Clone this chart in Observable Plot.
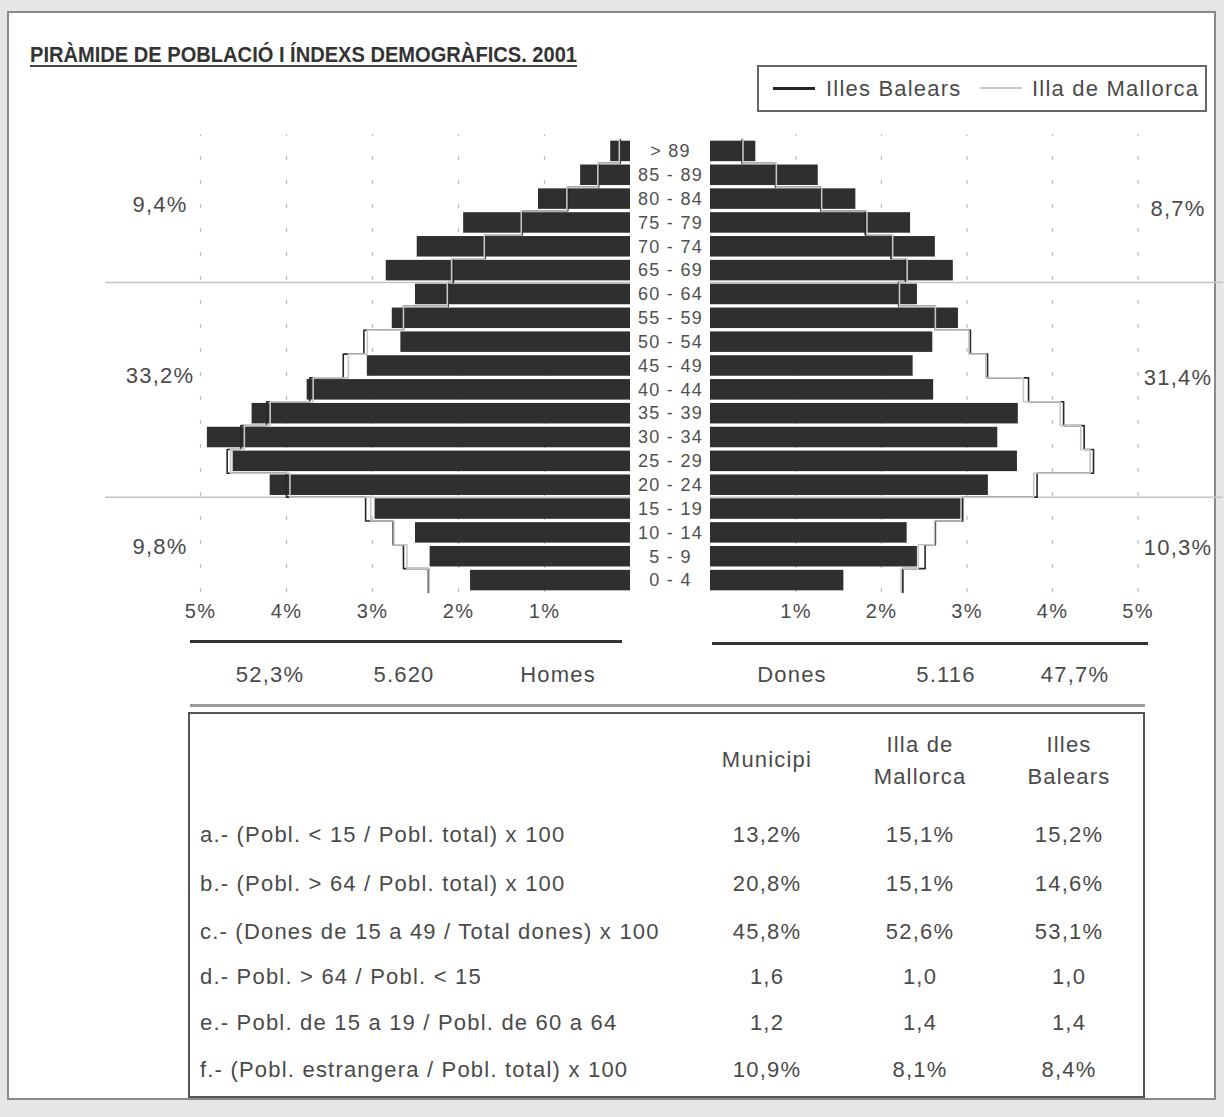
<!DOCTYPE html>
<html><head><meta charset="utf-8">
<script src="https://cdn.jsdelivr.net/npm/d3@7"></script>
<script src="https://cdn.jsdelivr.net/npm/@observablehq/plot@0.6"></script>
<style>
body{margin:0;background:#e6e6e6;font-family:"Liberation Sans",Arial,sans-serif;}
#page{position:relative;width:1224px;height:1117px;overflow:hidden;}
#panel{position:absolute;left:7px;top:11px;width:1209px;height:1089px;background:#fff;border:2px solid #8a8a8a;box-sizing:border-box;}
.t{position:absolute;transform:translate(-50%,-50%);white-space:nowrap;color:#4a4a4a;font-size:22px;letter-spacing:1.2px;}
.l{position:absolute;transform:translate(0,-50%);white-space:nowrap;color:#4a4a4a;font-size:22px;letter-spacing:1.2px;}
.abs{position:absolute;}
</style></head><body><div id="page"><div id="panel"></div></div>
<script>
// ---- data ----
const ages = ["> 89","85 - 89","80 - 84","75 - 79","70 - 74","65 - 69","60 - 64","55 - 59","50 - 54","45 - 49","40 - 44","35 - 39","30 - 34","25 - 29","20 - 24","15 - 19","10 - 14","5 - 9","0 - 4"];
const homesMunicipi = [0.23,0.58,1.07,1.94,2.48,2.84,2.50,2.77,2.67,3.06,3.76,4.40,4.92,4.62,4.19,2.97,2.50,2.33,1.86];
const homesBalears  = [0.12,0.37,0.73,1.26,1.69,2.06,2.12,2.64,3.10,3.34,3.73,4.23,4.53,4.69,4.00,3.08,2.76,2.64,2.35];
const homesMallorca = [0.13,0.38,0.74,1.27,1.70,2.08,2.13,2.64,3.06,3.28,3.69,4.19,4.49,4.65,3.96,3.02,2.75,2.60,2.34];
const donesMunicipi = [0.53,1.26,1.70,2.34,2.63,2.84,2.42,2.90,2.60,2.37,2.61,3.60,3.36,3.59,3.25,2.95,2.30,2.42,1.56];
const donesBalears  = [0.37,0.76,1.29,1.81,2.11,2.28,2.20,2.63,3.04,3.24,3.72,4.13,4.37,4.48,3.82,2.95,2.63,2.51,2.25];
const donesMallorca = [0.38,0.77,1.30,1.83,2.13,2.30,2.21,2.63,3.02,3.22,3.66,4.09,4.33,4.44,3.78,2.93,2.62,2.43,2.23];
const xTicks = [1,2,3,4,5];
const bandBreaks = [5.5, 14.5]; // between 65-69 / 60-64 and 20-24 / 15-19
const homesBandLabels = ["9,4%","33,2%","9,8%"];
const donesBandLabels = ["8,7%","31,4%","10,3%"];
const totals = {homesPct:"52,3%", homesN:"5.620", homes:"Homes", dones:"Dones", donesN:"5.116", donesPct:"47,7%"};
const legendItems = ["Illes Balears","Illa de Mallorca"];
const title = "PIRÀMIDE DE POBLACIÓ I ÍNDEXS DEMOGRÀFICS. 2001";
const tableHead = [["Municipi"],["Illa de","Mallorca"],["Illes","Balears"]];
const indexLabels = ["a.- (Pobl. < 15 / Pobl. total) x 100","b.- (Pobl. > 64 / Pobl. total) x 100","c.- (Dones de 15 a 49 / Total dones) x 100","d.- Pobl. > 64 / Pobl. < 15","e.- Pobl. de 15 a 19 / Pobl. de 60 a 64","f.- (Pobl. estrangera / Pobl. total) x 100"];
const idxMunicipi = ["13,2%","20,8%","45,8%","1,6","1,2","10,9%"];
const idxMallorca = ["15,1%","15,1%","52,6%","1,0","1,4","8,1%"];
const idxBalears  = ["15,2%","14,6%","53,1%","1,0","1,4","8,4%"];

// ---- helpers ----
const page = document.getElementById("page");
function add(html){ page.insertAdjacentHTML("beforeend", html); }
function rowsOf(values){ return values.map((v,i)=>({v, r:i, age:ages[i]})); }
function steps(values){ return values.flatMap((v,i)=>[{v, r:i-0.5},{v, r:i+0.5}]); }

const DARK = "#2f2f2f", LIGHT = "#c6c6c6", BAL = "#262626";
const common = {
  height: 500, marginTop: 14, marginBottom: 33,
  y: {domain:[18.5,-0.5], axis:null},
  style: {background:"transparent", overflow:"visible", color:"#4a4a4a",
          fontFamily:"Liberation Sans, Arial, sans-serif", fontSize:"20px", letterSpacing:"1.3px"}
};
function sideMarks(mun, bal, mal, xmax){
  return [
    Plot.ruleX(xTicks, {y1:18.5, y2:-0.7, stroke:"#bcbcbc", strokeDasharray:"4,20", strokeWidth:1.2}),
    Plot.ruleY(bandBreaks, {x1:0, x2:xmax, stroke:"#c4c4c4", strokeWidth:1.5}),
    Plot.rectX(rowsOf(mun), {x1:0, x2:"v", y1:d=>d.r-0.43, y2:d=>d.r+0.43, fill:DARK}),
    Plot.line(steps(bal), {x:"v", y:"r", stroke:BAL, strokeWidth:1.6}),
    Plot.line(steps(mal), {x:"v", y:"r", stroke:LIGHT, strokeWidth:1.6})
  ];
}

const left = Plot.plot({
  ...common, width:640, marginLeft:105.4, marginRight:10,
  x: {domain:[0,6.1], reverse:true, ticks:xTicks, tickFormat:d=>d+"%", tickSize:0, tickPadding:11, label:null},
  marks: sideMarks(homesMunicipi, homesBalears, homesMallorca, 6.1)
});
left.style.left = "0px"; left.style.top = "125px"; left.style.position = "absolute";
page.appendChild(left);

const right = Plot.plot({
  ...common, width:604, marginLeft:90, marginRight:1,
  x: {domain:[0,6.0], ticks:xTicks, tickFormat:d=>d+"%", tickSize:0, tickPadding:11, label:null},
  marks: [
    ...sideMarks(donesMunicipi, donesBalears, donesMallorca, 6.0),
    Plot.text(rowsOf(donesMunicipi), {x:0, y:"r", text:"age", dx:-40, fontSize:18, fill:"#505050"})
  ]
});
right.style.left = "620px"; right.style.top = "125px"; right.style.position = "absolute";
page.appendChild(right);

// ---- title ----
add(`<svg class="abs" style="left:0;top:0" width="700" height="90">
  <text x="30" y="62" textLength="547" lengthAdjust="spacingAndGlyphs" font-family="Liberation Sans Narrow, Arial Narrow, Liberation Sans, sans-serif" font-weight="bold" font-size="22" fill="#333">${title}</text>
  <line x1="30" x2="577" y1="66" y2="66" stroke="#444" stroke-width="2"/></svg>`);

// ---- legend ----
add(`<div class="abs" style="left:757px;top:65px;width:450px;height:47px;border:2px solid #666;box-sizing:border-box"></div>`);
add(`<div class="abs" style="left:773px;top:87px;width:42px;height:3px;background:${BAL}"></div>`);
add(`<div class="l" style="left:826px;top:89px">${legendItems[0]}</div>`);
add(`<div class="abs" style="left:980px;top:87px;width:42px;height:2px;background:${LIGHT}"></div>`);
add(`<div class="l" style="left:1032px;top:89px">${legendItems[1]}</div>`);

// ---- band labels ----
const bandY = [205, 376, 547];
homesBandLabels.forEach((t,i)=>add(`<div class="t" style="left:160px;top:${bandY[i]}px">${t}</div>`));
const bandYR = [209, 378, 548];
donesBandLabels.forEach((t,i)=>add(`<div class="t" style="left:1178px;top:${bandYR[i]}px">${t}</div>`));

// ---- totals ----
add(`<div class="abs" style="left:190px;top:640px;width:432px;height:3px;background:#333"></div>`);
add(`<div class="abs" style="left:712px;top:642px;width:436px;height:3px;background:#333"></div>`);
const totX = [270,404,558,792,946,1075];
[totals.homesPct, totals.homesN, totals.homes, totals.dones, totals.donesN, totals.donesPct]
  .forEach((t,i)=>add(`<div class="t" style="left:${totX[i]}px;top:675px">${t}</div>`));

// ---- table ----
add(`<div class="abs" style="left:190px;top:704px;width:955px;height:3px;background:#9a9a9a"></div>`);
add(`<div class="abs" style="left:188px;top:712px;width:957px;height:386px;border:2px solid #555;box-sizing:border-box"></div>`);
const colX = [767,920,1069];
tableHead.forEach((lines,i)=>{
  if(lines.length===1) add(`<div class="t" style="left:${colX[i]}px;top:760px">${lines[0]}</div>`);
  else lines.forEach((t,j)=>add(`<div class="t" style="left:${colX[i]}px;top:${745+j*32}px">${t}</div>`));
});
const rowY = [835,884,932,977,1023,1070];
const esc = s=>s.replace(/</g,"&lt;").replace(/>/g,"&gt;");
indexLabels.forEach((t,i)=>{
  add(`<div class="l" style="left:200px;top:${rowY[i]}px">${esc(t)}</div>`);
  [idxMunicipi[i], idxMallorca[i], idxBalears[i]].forEach((v,k)=>
    add(`<div class="t" style="left:${colX[k]}px;top:${rowY[i]}px">${v}</div>`));
});
</script></body></html>
